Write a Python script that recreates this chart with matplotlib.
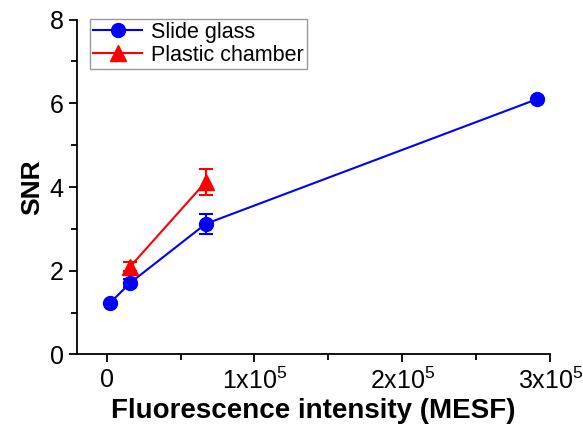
import matplotlib
matplotlib.use("Agg")
import matplotlib.pyplot as plt
from matplotlib.ticker import MultipleLocator, FuncFormatter
from matplotlib.lines import Line2D

plt.rcParams['font.family'] = ['Liberation Sans', 'DejaVu Sans']
plt.rcParams['mathtext.fontset'] = 'custom'
plt.rcParams['mathtext.rm'] = 'Liberation Sans'

# Slide glass
glass_x = [2000, 16000, 67000, 291000]
glass_y = [1.22, 1.71, 3.12, 6.1]
glass_err = [0.0, 0.1, 0.24, 0.0]

# Plastic chamber
plastic_x = [16000, 67000]
plastic_y = [2.1, 4.12]
plastic_err = [0.1, 0.3]


def sci_fmt(v, pos):
    if v == 0:
        return "0"
    n = int(round(v / 1e5))
    return r"%dx10$^{\mathrm{5}}$" % n


fig = plt.figure(figsize=(5.83, 4.36), dpi=100)
ax = fig.add_axes([0.132, 0.187, 0.812, 0.768])

ax.errorbar(glass_x, glass_y, yerr=glass_err, color='blue', marker='o',
            markersize=10, lw=1.5, capsize=5, capthick=1.5, elinewidth=1.5)
ax.errorbar(plastic_x, plastic_y, yerr=plastic_err, color='red', marker='^',
            markersize=11, lw=1.5, capsize=5, capthick=1.5, elinewidth=1.5)

ax.set_xlim(-20000, 300000)
ax.set_ylim(0, 8)
ax.xaxis.set_major_locator(MultipleLocator(100000))
ax.xaxis.set_minor_locator(MultipleLocator(50000))
ax.xaxis.set_major_formatter(FuncFormatter(sci_fmt))
ax.yaxis.set_major_locator(MultipleLocator(2))
ax.yaxis.set_minor_locator(MultipleLocator(1))

for s in ['top', 'right']:
    ax.spines[s].set_visible(False)
for s in ['left', 'bottom']:
    ax.spines[s].set_linewidth(1.3)
ax.tick_params(which='major', length=6, width=1.3, labelsize=18, direction='out')
ax.tick_params(which='minor', length=4, width=1.3, direction='out')

ax.set_xlabel('Fluorescence intensity (MESF)', fontsize=20, fontweight='bold',
              labelpad=3)
ax.set_ylabel('SNR', fontsize=19, fontweight='bold', labelpad=4)

handles = [
    Line2D([], [], color='blue', marker='o', markersize=10, lw=1.5),
    Line2D([], [], color='red', marker='^', markersize=11, lw=1.5),
]
leg = ax.legend(handles, ['Slide glass', 'Plastic chamber'], loc='upper left',
                fontsize=15.5, frameon=True, fancybox=False, edgecolor='gray',
                borderpad=0.15, handlelength=2.3, handletextpad=0.4,
                labelspacing=0.1, borderaxespad=0,
                bbox_to_anchor=(0.027, 1.003))
leg.get_frame().set_linewidth(1.0)

fig.savefig('out.png', dpi=100)
